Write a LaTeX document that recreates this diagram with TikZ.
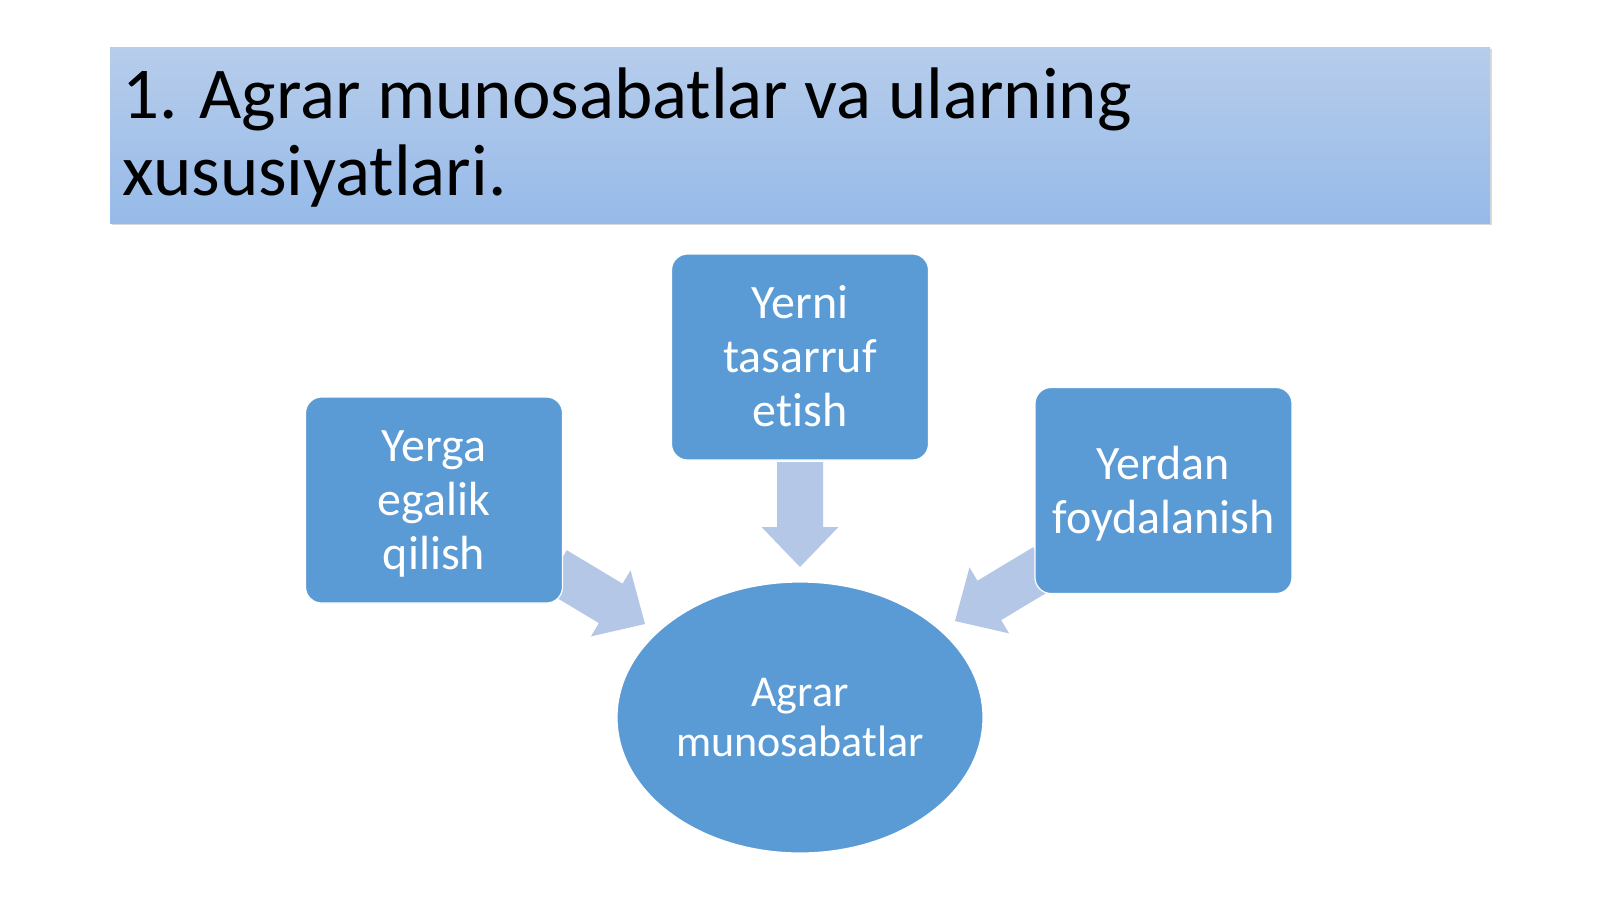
\documentclass[tikz,border=0pt]{standalone}
\usepackage{fontspec}
\setmainfont{Carlito}[Ligatures=CommonOff]
\usetikzlibrary{shapes.geometric}
\definecolor{boxblue}{RGB}{91,155,213}
\definecolor{arrowblue}{RGB}{181,199,230}
\definecolor{bartop}{RGB}{183,205,235}
\definecolor{barbot}{RGB}{150,186,233}
\newcommand\bxstrut{\rule[-11pt]{0pt}{53pt}}
\newcommand\elstrut{\rule[-11pt]{0pt}{49pt}}
\begin{document}
\begin{tikzpicture}[x=1pt,y=-1pt,
  stepbox/.style={draw=white, line width=1.2pt, fill=boxblue, rounded corners=16pt,
    minimum width=257pt, minimum height=206pt, inner sep=0pt, text=white,
    align=center, font=\fontsize{48}{54}\selectfont},
  hub/.style={ellipse, draw=white, line width=1.2pt, fill=boxblue,
    minimum width=366pt, minimum height=271pt, inner sep=0pt, text=white,
    align=center, font=\fontsize{44}{48}\selectfont},
  bigarrow/.style={fill=arrowblue, draw=none},
  titlebar/.style={top color=bartop, bottom color=barbot, draw=none,
    minimum width=1380pt, minimum height=176pt, inner sep=0pt},
  titletext/.style={align=left, inner sep=0pt, text=black,
    font=\fontsize{73}{77}\selectfont}]
\useasboundingbox (0,0) rectangle (1600,899);
\fill[white] (0,0) rectangle (1600,899);
% title bar
\fill[black!15] (112,49) rectangle (1492,225);
\node[titlebar, anchor=north west] (title) at (110,47) {};
\node[titletext, anchor=base west] (titletxt) at (122,195)
  {1. Agrar munosabatlar va ularning\\xususiyatlari.};
% arrow tips
\coordinate (tipL) at (645,624);
\coordinate (tipD) at (800,567);
\coordinate (tipR) at (955,621);
\fill[bigarrow, shift={(tipL)}, rotate=-31]
  (-105,-23) -- (-40,-23) -- (-40,-38.5) -- (0,0) -- (-40,38.5) -- (-40,23) -- (-105,23) -- cycle;
\fill[bigarrow, shift={(tipD)}, rotate=-90]
  (-105,-23) -- (-40,-23) -- (-40,-38.5) -- (0,0) -- (-40,38.5) -- (-40,23) -- (-105,23) -- cycle;
\fill[bigarrow, shift={(tipR)}, rotate=-149]
  (-105,-23) -- (-40,-23) -- (-40,-38.5) -- (0,0) -- (-40,38.5) -- (-40,23) -- (-105,23) -- cycle;
% boxes
\node[stepbox] (own) at (434,500) {\bxstrut Yerga\\egalik\\qilish\bxstrut};
\node[stepbox] (dispose) at (800,357) {\bxstrut Yerni\\tasarruf\\etish\bxstrut};
\node[stepbox] (use) at (1163.5,490.5) {\bxstrut Yerdan\\foydalanish\bxstrut};
\node[hub] (agrar) at (800,717.5) {\elstrut Agrar\\munosabatlar\elstrut};
\end{tikzpicture}
\end{document}
